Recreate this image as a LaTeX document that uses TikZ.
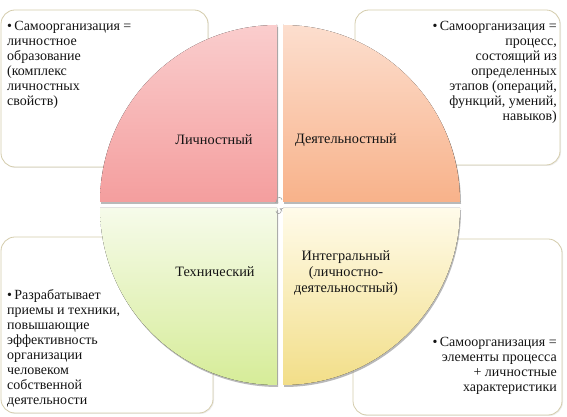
\documentclass[tikz,border=0pt]{standalone}
\usepackage{fontspec}
\setmainfont{Liberation Serif}
\usepackage{tikz}
\usetikzlibrary{shadows}

\definecolor{boxline}{RGB}{212,204,172}
\definecolor{redtop}{RGB}{250,205,205}
\definecolor{redbot}{RGB}{244,158,158}
\definecolor{orgtop}{RGB}{252,222,206}
\definecolor{orgbot}{RGB}{248,178,138}
\definecolor{grntop}{RGB}{246,251,234}
\definecolor{grnbot}{RGB}{214,236,152}
\definecolor{yeltop}{RGB}{255,251,234}
\definecolor{yelbot}{RGB}{242,222,136}
\definecolor{txt}{RGB}{20,20,20}

\tikzset{
  infobox/.style={draw=boxline,line width=0.8pt,fill=white,rounded corners=14pt,
    drop shadow={shadow xshift=1pt,shadow yshift=-1pt,opacity=0.15}},
  quadr/.style={draw=none,drop shadow={shadow xshift=1pt,shadow yshift=-2pt,opacity=0.55}},
  boxtext/.style={inner sep=0pt,text=txt,font=\fontsize{14}{15}\selectfont},
  quadtext/.style={inner sep=0pt,text=txt,align=center,font=\fontsize{14.3}{16}\selectfont}
}

\begin{document}
\begin{tikzpicture}[x=1pt,y=1pt]
  \useasboundingbox (0,0) rectangle (567,417);
  \draw[infobox] (1,250) rectangle (208,407);
  \draw[infobox] (355,252) rectangle (560,407);
  \draw[infobox] (1,4) rectangle (213,180);
  \draw[infobox] (353,2) rectangle (562,178);

  \fill[quadr,top color=redtop,bottom color=redbot] (277,215) -- (100,215) arc[start angle=180,end angle=90,radius=177] -- cycle;
  \fill[quadr,top color=orgtop,bottom color=orgbot] (283,215) -- (283,392) arc[start angle=90,end angle=0,radius=177] -- cycle;
  \fill[quadr,top color=grntop,bottom color=grnbot] (277,209) -- (277,32) arc[start angle=270,end angle=180,radius=177] -- cycle;
  \fill[quadr,top color=yeltop,bottom color=yelbot] (283,209) -- (460,209) arc[start angle=0,end angle=-90,radius=177] -- cycle;

  \draw[gray!70,line width=0.6pt,-stealth] (282,217) arc[start angle=0,end angle=250,radius=2.6];
  \draw[gray!70,line width=0.6pt,-stealth] (276,206) arc[start angle=180,end angle=430,radius=2.6];

  \node[quadtext] (lich) at (214,277) {Личностный};
  \node[quadtext] (deyat) at (346,277) {Деятельностный};
  \node[quadtext] (tehn) at (215,145) {Технический};
  \node[quadtext] (integr) at (346,144) {Интегральный\\(личностно-\\деятельностный)};

  \node[boxtext,anchor=north west,align=left] (lichtxt) at (7,396)
    {•\,Самоорганизация =\\личностное\\образование\\(комплекс\\личностных\\свойств)};
  \node[boxtext,anchor=north east,align=right] (deyattxt) at (557,396)
    {•\,Самоорганизация =\\процесс,\\состоящий из\\определенных\\этапов (операций,\\функций, умений,\\навыков)};
  \node[boxtext,anchor=north west,align=left] (tehntxt) at (7,128)
    {•\,Разрабатывает\\приемы и техники,\\повышающие\\эффективность\\организации\\человеком\\собственной\\деятельности};
  \node[boxtext,anchor=north east,align=right] (integrtxt) at (557,80)
    {•\,Самоорганизация =\\элементы процесса\\+ личностные\\характеристики};
\end{tikzpicture}
\end{document}
